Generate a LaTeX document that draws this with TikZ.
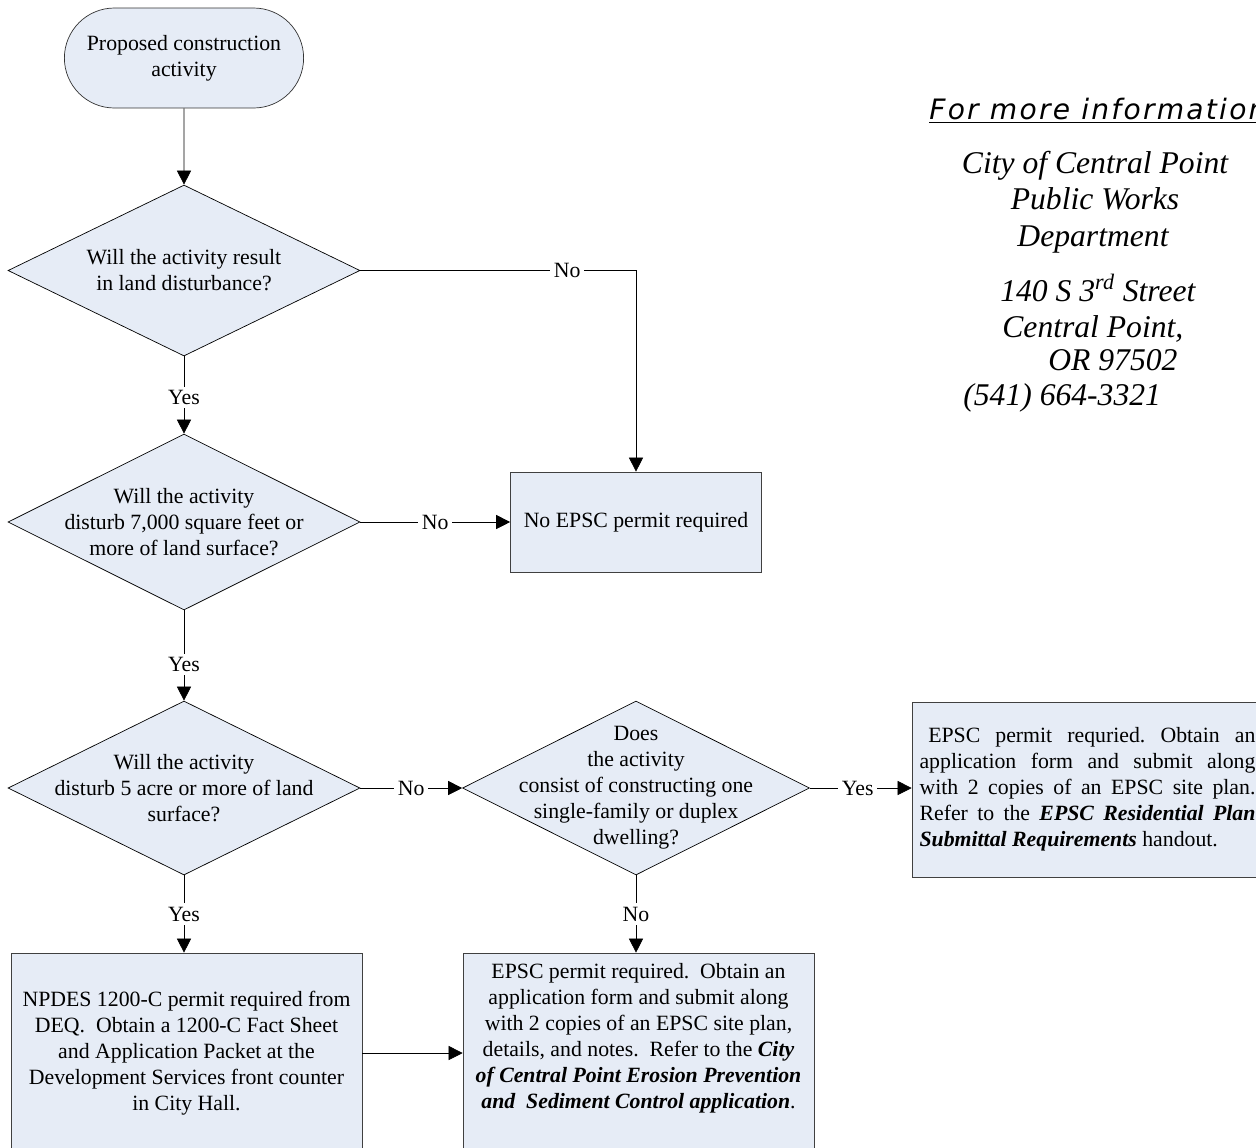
\documentclass[tikz,border=0pt]{standalone}
\usepackage{fontspec}
\setmainfont{Liberation Serif}
\newfontfamily\infofont{DejaVu Sans}[LetterSpace=8.0]
\usetikzlibrary{shapes.geometric,shapes.misc,arrows.meta}
\definecolor{flowfill}{RGB}{230,236,246}

\tikzset{
  base/.style={font=\fontsize{12.4}{14.8}\selectfont},
  start/.style={base,rounded rectangle,draw=black!80,fill=flowfill,
    minimum width=5.02cm,minimum height=2cm,align=center},
  decision/.style={diamond,draw,fill=flowfill,minimum width=7.04cm,
    minimum height=3.48cm,inner sep=0pt},
  qtext/.style={base,align=center,inner sep=0pt},
  outcome/.style={base,rectangle,draw=black!75,fill=flowfill,
    minimum width=7.02cm,align=center},
  line/.style={draw,-{Triangle[length=8pt,width=8pt]}},
  lbl/.style={base,fill=white,inner sep=2pt},
  info/.style={font=\fontsize{18}{21}\selectfont\itshape,inner sep=0pt,anchor=base},
}

\begin{document}
\begin{tikzpicture}[x=0.02cm,y=-0.02cm]
\clip (0,0) rectangle (1256,1147);

% left column
\node[start] (start) at (184,58) {Proposed construction\\activity};
\node[decision,minimum height=3.42cm] (d1) at (184,270.5) {};
\node[qtext] (d1t) at (d1) {Will the activity result\\in land disturbance?};
\node[decision,minimum height=3.52cm] (d2) at (184,522) {};
\node[qtext] (d2t) at (d2) {Will the activity\\disturb 7,000 square feet or\\more of land surface?};
\node[decision] (d3) at (184,788) {};
\node[qtext] (d3t) at (d3) {Will the activity\\disturb 5 acre or more of land\\surface?};
\node[outcome,minimum height=4cm] (npdes) at (186.5,1053)
  {NPDES 1200-C permit required from\\DEQ.\ \ Obtain a 1200-C Fact Sheet\\and Application Packet at the\\Development Services front counter\\in City Hall.};

% middle column
\node[outcome,minimum width=5.02cm,minimum height=2cm] (nopermit) at (636,522) {No EPSC permit required};
\node[decision,minimum width=6.94cm] (d4) at (636,788) {};
\node[qtext] (d4t) at (d4) {Does\\the activity\\consist of constructing one\\single-family or duplex\\dwelling?};
\node[outcome,minimum height=4cm] (epsc) at (638.5,1053)
  {EPSC permit required.\ \ Obtain an\\application form and submit along\\with 2 copies of an EPSC site plan,\\details, and notes.\ \ Refer to the \textbf{\textit{City}}\\\textbf{\textit{of Central Point Erosion Prevention}}\\\textbf{\textit{and\ \ Sediment Control application}}.\\\strut};

% right column
\node[outcome,minimum height=3.5cm,align=justify,text width=6.72cm,inner xsep=0.15cm] (resid) at (1087.5,789.5)
  {\frenchspacing\hspace{0.4em}EPSC permit requried. Obtain an\linebreak application form and submit along\linebreak with 2 copies of an EPSC site plan.\linebreak Refer to the \textbf{\textit{EPSC Residential Plan}}\linebreak \textbf{\textit{Submittal Requirements}} handout.};

% connectors
\draw[line] (start) -- (d1);
\draw[line] (d1.east) -| node[lbl,pos=0.375] {No} (nopermit.north);
\draw[line] (d1.south) -- node[lbl,pos=0.53] {Yes} (d2.north);
\draw[line] (d2.east) -- node[lbl] {No} (nopermit.west);
\draw[line] (d2.south) -- node[lbl,pos=0.6] {Yes} (d3.north);
\draw[line] (d3.east) -- node[lbl] {No} (d4.west);
\draw[line] (d3.south) -- node[lbl] {Yes} (d3.south |- npdes.north);
\draw[line] (d4.east) -- node[lbl,pos=0.47] {Yes} (d4.east -| resid.west);
\draw[line] (d4.south) -- node[lbl] {No} (d4.south |- epsc.north);
\draw[line] (npdes.east) -- (epsc.west);

% contact block
\node[font=\infofont\itshape\fontsize{16}{19}\selectfont,inner sep=0pt,anchor=base west] (infohead) at (929,119) {\underline{For more information}};
\node[info] (city) at (1095,173) {City of Central Point};
\node[info] (works) at (1095,209) {Public Works};
\node[info] (dept) at (1093,246) {Department};
\node[info,anchor=base west] (street) at (1000,301) {140 S 3\textsuperscript{rd} Street};
\node[info,anchor=base west] (town) at (1002,337) {Central Point,};
\node[info,anchor=base west] (zip) at (1048,370) {OR 97502};
\node[info,anchor=base west] (phone) at (963,405) {(541) 664-3321};
\end{tikzpicture}
\end{document}
